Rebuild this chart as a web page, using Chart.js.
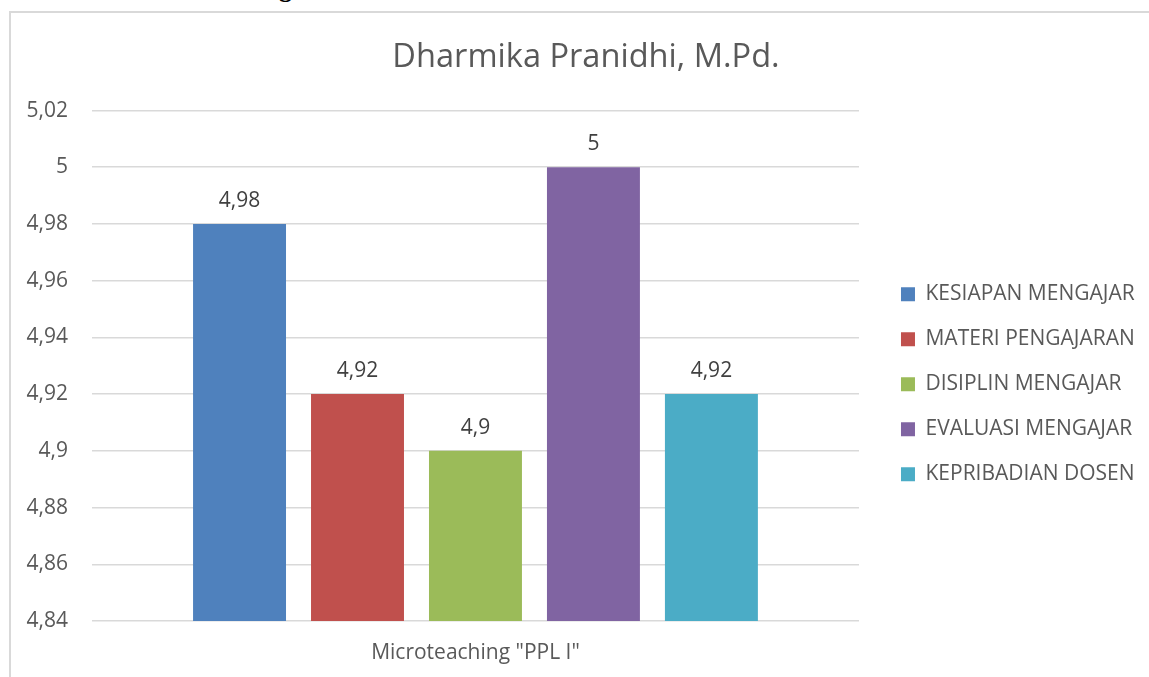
<!DOCTYPE html>
<html>
<head>
<meta charset="utf-8">
<script src="https://cdn.jsdelivr.net/npm/chart.js@4"></script>
<style>
  html, body { margin: 0; padding: 0; background: #fff; overflow: hidden; }
  #frame { position: absolute; left: 9px; top: 11px; width: 1200px; height: 700px;
           border-left: 2px solid #d9d9d9; border-top: 2px solid #d9d9d9; }
  #cut { position: absolute; left: 279px; top: -24px; font: bold 26px 'Liberation Serif', serif; line-height: 26px; color: #000; }
  #wrap { position: absolute; left: 0; top: 0; width: 1149px; height: 685px; }
</style>
</head>
<body>
<div id="cut">g</div>
<div id="frame"></div>
<div id="wrap"><canvas id="chart"></canvas></div>
<script>
const categories = ['Microteaching "PPL I"'];
const seriesNames = ['KESIAPAN MENGAJAR', 'MATERI PENGAJARAN', 'DISIPLIN MENGAJAR', 'EVALUASI MENGAJAR', 'KEPRIBADIAN DOSEN'];
const seriesValues = [4.98, 4.92, 4.9, 5, 4.92];
const seriesColors = ['#4f81bd', '#c0504d', '#9bbb59', '#8064a2', '#4bacc6'];
const yTicks = [4.84, 4.86, 4.88, 4.9, 4.92, 4.94, 4.96, 4.98, 5, 5.02];

const fontFamily = "'Open Sans', sans-serif";
const textColor = '#595959';

function fmt(v) {
    return parseFloat(v.toFixed(2)).toString().replace('.', ',');
}

const excelLook = {
    id: 'excelLook',
    afterLayout(chart) {
        // legend a little away from the plot, title centred on the frame
        const lg = chart.legend;
        const lw = lg.right - lg.left;
        lg.left = chart.chartArea.right + 18;
        lg.right = lg.left + lw;
        const tb = chart.titleBlock;
        const tw = tb.right - tb.left;
        tb.left = 586 - tw / 2;
        tb.right = 586 + tw / 2;
    },
    // value labels above each bar
    afterDatasetsDraw(chart) {
        const ctx = chart.ctx;
        ctx.save();
        ctx.font = '21px ' + fontFamily;
        ctx.fillStyle = '#404040';
        ctx.textAlign = 'center';
        ctx.textBaseline = 'alphabetic';
        chart.data.datasets.forEach((ds, i) => {
            chart.getDatasetMeta(i).data.forEach((bar, j) => {
                ctx.fillText(fmt(ds.data[j]), bar.x, bar.y - 17);
            });
        });
        ctx.restore();
    }
};

const datasets = seriesNames.map((name, i) => ({
    label: name,
    data: [seriesValues[i]],
    backgroundColor: seriesColors[i],
    borderWidth: 0,
    categoryPercentage: 0.769,
    barPercentage: 0.788
}));

new Chart(document.getElementById('chart'), {
    type: 'bar',
    data: { labels: categories, datasets: datasets },
    plugins: [excelLook],
    options: {
        responsive: true,
        maintainAspectRatio: false,
        animation: false,
        layout: { padding: { left: 2.5, right: 22.2, top: 0, bottom: 0 } },
        scales: {
            x: {
                grid: { display: false, drawTicks: false },
                border: { display: false },
                ticks: { color: textColor, font: { family: fontFamily, size: 21 }, padding: 19.4 }
            },
            y: {
                min: yTicks[0],
                max: yTicks[yTicks.length - 1],
                afterBuildTicks: axis => { axis.ticks = yTicks.map(v => ({ value: v })); },
                grid: { color: '#d9d9d9', lineWidth: 1.5, drawTicks: false },
                border: { display: false },
                ticks: { color: textColor, font: { family: fontFamily, size: 21 }, padding: 24, callback: v => fmt(v) }
            }
        },
        plugins: {
            title: {
                display: true,
                text: 'Dharmika Pranidhi, M.Pd.',
                color: textColor,
                font: { family: fontFamily, size: 32.6, weight: 'normal' },
                padding: { top: 38.5, bottom: 32.9 }
            },
            legend: {
                position: 'right',
                fullSize: false,
                title: { display: true, text: '', font: { size: 21 }, padding: { top: 12, bottom: 0 } },
                labels: {
                    boxWidth: 14,
                    boxHeight: 14,
                    padding: 24,
                    color: textColor,
                    font: { family: fontFamily, size: 21 }
                }
            },
            tooltip: { enabled: false }
        }
    }
});
</script>
</body>
</html>
